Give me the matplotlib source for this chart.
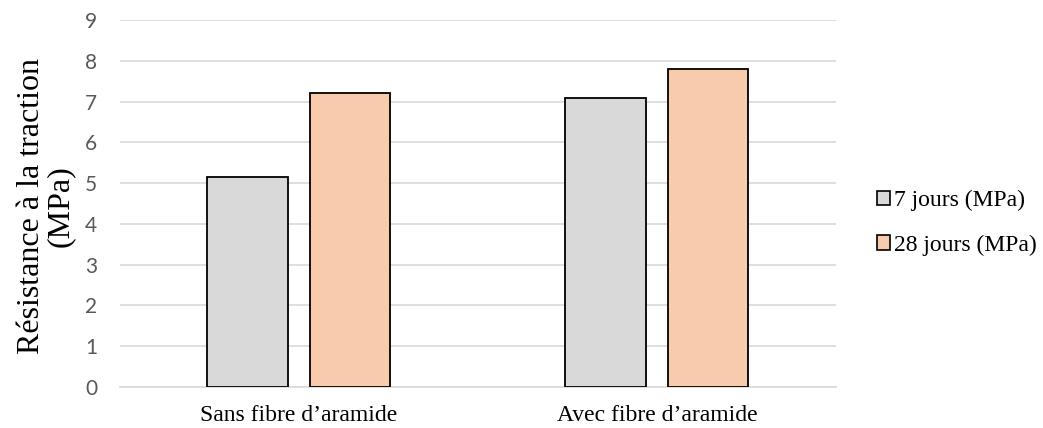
import numpy as np
import matplotlib.pyplot as plt

# Données
categories = ["Sans fibre d\u2019aramide", "Avec fibre d\u2019aramide"]
series_names = ["7 jours (MPa)", "28 jours (MPa)"]
jours_7 = [5.16, 7.09]
jours_28 = [7.20, 7.79]
y_ticks = list(range(0, 10))

colors = ["#D9D9D9", "#F8CBAD"]

fig = plt.figure(figsize=(10.43, 4.28), dpi=100)
ax = fig.add_axes([0.115, 0.0965, 0.6865, 0.8565])

x = np.arange(len(categories))
w = 0.226
off = 0.1425

ax.bar(x - off, jours_7, width=w, color=colors[0], edgecolor="black",
       linewidth=1.3, label=series_names[0], zorder=3)
ax.bar(x + off, jours_28, width=w, color=colors[1], edgecolor="black",
       linewidth=1.3, label=series_names[1], zorder=3)

ax.set_xlim(-0.5, 1.5)
ax.set_ylim(0, 9)
ax.set_yticks(y_ticks)
ax.set_xticks(x)
ax.set_xticklabels(categories, fontfamily="Liberation Serif", fontsize=17)
for lab in ax.get_yticklabels():
    lab.set_fontfamily("Lato")
    lab.set_fontsize(15)
    lab.set_color("#595959")
ax.tick_params(axis="y", length=0, pad=16.5)
ax.tick_params(axis="x", length=0, pad=13)

ax.grid(axis="y", color="#D9D9D9", linewidth=1.2, zorder=0)
for s in ["top", "right", "left"]:
    ax.spines[s].set_visible(False)
ax.spines["bottom"].set_color("#D9D9D9")
ax.spines["bottom"].set_linewidth(1.2)

ax.set_ylabel("R\u00e9sistance \u00e0 la traction\n(MPa)", fontfamily="Liberation Serif",
              fontsize=23, linespacing=1.0)
ax.yaxis.set_label_coords(-0.0628, 0.493)

leg = ax.legend(loc="center left", bbox_to_anchor=(1.057, 0.447), frameon=False,
                prop={"family": "Liberation Serif", "size": 17},
                handlelength=0.55, handleheight=0.55, handletextpad=0.2,
                labelspacing=1.0, borderpad=0, borderaxespad=0)
for h in leg.legend_handles:
    h.set_linewidth(1.2)

plt.savefig("out.png", dpi=100)
